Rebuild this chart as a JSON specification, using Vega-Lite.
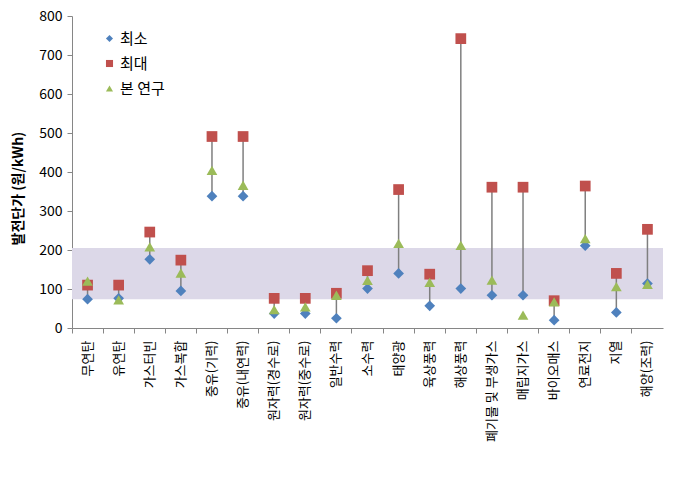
{
  "$schema": "https://vega.github.io/schema/vega-lite/v6.json",
  "width": 591,
  "height": 312,
  "autosize": {"type": "none"},
  "padding": {"left": 72, "top": 16, "right": 31, "bottom": 152},
  "background": "white",
  "config": {
    "font": "Noto Sans CJK KR",
    "view": {"stroke": null},
    "axisY": {
      "values": [0, 100, 200, 300, 400, 500, 600, 700, 800],
      "labelFontSize": 14, "labelColor": "#000000", "grid": false,
      "domainColor": "#868686", "tickColor": "#868686", "tickSize": 5, "labelPadding": 5
    }
  },
  "datasets": {
    "costs": [
      {"cat": "무연탄", "min": 74, "max": 110, "study": 120},
      {"cat": "유연탄", "min": 76, "max": 110, "study": 72},
      {"cat": "가스터빈", "min": 176, "max": 246, "study": 208},
      {"cat": "가스복합", "min": 95, "max": 174, "study": 141},
      {"cat": "중유(기력)", "min": 338, "max": 491, "study": 404},
      {"cat": "중유(내연력)", "min": 338, "max": 491, "study": 366},
      {"cat": "원자력(경수로)", "min": 37, "max": 76, "study": 47},
      {"cat": "원자력(중수로)", "min": 37, "max": 76, "study": 54},
      {"cat": "일반수력", "min": 25, "max": 89, "study": 84},
      {"cat": "소수력", "min": 101, "max": 147, "study": 122},
      {"cat": "태양광", "min": 140, "max": 355, "study": 217},
      {"cat": "육상풍력", "min": 57, "max": 138, "study": 117},
      {"cat": "해상풍력", "min": 101, "max": 742, "study": 212},
      {"cat": "폐기물 및 부생가스", "min": 84, "max": 361, "study": 123},
      {"cat": "매립지가스", "min": 84, "max": 361, "study": 33},
      {"cat": "바이오매스", "min": 20, "max": 70, "study": 67},
      {"cat": "연료전지", "min": 211, "max": 364, "study": 229},
      {"cat": "지열", "min": 40, "max": 140, "study": 106},
      {"cat": "해양(조력)", "min": 114, "max": 253, "study": 112}
    ],
    "band": [{"lo": 74, "hi": 205}],
    "keys": [
      {"key": "min", "series": "최소"},
      {"key": "max", "series": "최대"},
      {"key": "study", "series": "본 연구"}
    ]
  },
  "layer": [
    {
      "data": {"name": "band"},
      "mark": {"type": "rect", "color": "#DCD8E8"},
      "encoding": {
        "y": {
          "field": "lo", "type": "quantitative", "scale": {"domain": [0, 800], "nice": false},
          "axis": {
            "title": "발전단가 (원/kWh)", "titleFontSize": 14, "titleFontWeight": "bold",
            "titleColor": "#000000", "titleX": -54, "titleY": 172, "titleAlign": "center", "titleBaseline": "middle"
          }
        },
        "y2": {"field": "hi"}
      }
    },
    {
      "data": {"name": "costs"},
      "mark": {"type": "rule", "color": "#7F7F7F", "strokeWidth": 1.5},
      "encoding": {
        "x": {
          "field": "cat", "type": "nominal", "sort": null,
          "scale": {"type": "band", "paddingInner": 0, "paddingOuter": 0},
          "axis": {
            "title": null, "labelAngle": -90, "labelFontSize": 13, "labelColor": "#000000",
            "domainColor": "#868686", "tickColor": "#868686", "tickSize": 5,
            "bandPosition": 0, "labelPadding": 7, "labelLimit": 200
          }
        },
        "y": {
          "field": "min", "type": "quantitative",
          "axis": {
            "title": "발전단가 (원/kWh)", "titleFontSize": 14, "titleFontWeight": "bold",
            "titleColor": "#000000", "titleX": -54, "titleY": 172, "titleAlign": "center", "titleBaseline": "middle"
          }
        },
        "y2": {"field": "max"}
      }
    },
    {
      "data": {"name": "costs"},
      "transform": [
        {"fold": ["min", "max", "study"], "as": ["key", "value"]},
        {"lookup": "key", "from": {"data": {"name": "keys"}, "key": "key", "fields": ["series"]}}
      ],
      "mark": {"type": "point", "filled": true, "opacity": 1, "size": 115},
      "encoding": {
        "x": {"field": "cat", "type": "nominal", "sort": null},
        "y": {"field": "value", "type": "quantitative"},
        "color": {
          "field": "series", "type": "nominal",
          "scale": {"domain": ["최소", "최대", "본 연구"], "range": ["#4F81BD", "#C0504D", "#9BBB59"]},
          "legend": {
            "title": null, "orient": "none", "legendX": 30, "legendY": 15,
            "labelFontSize": 15, "labelColor": "#000000", "symbolSize": 50,
            "rowPadding": 9, "padding": 0, "labelOffset": 3, "symbolOpacity": 1
          }
        },
        "shape": {
          "field": "series", "type": "nominal",
          "scale": {"domain": ["최소", "최대", "본 연구"], "range": ["diamond", "square", "triangle-up"]},
          "legend": {
            "title": null, "orient": "none", "legendX": 30, "legendY": 15,
            "labelFontSize": 15, "labelColor": "#000000", "symbolSize": 50,
            "rowPadding": 9, "padding": 0, "labelOffset": 3, "symbolOpacity": 1
          }
        }
      }
    }
  ]
}
